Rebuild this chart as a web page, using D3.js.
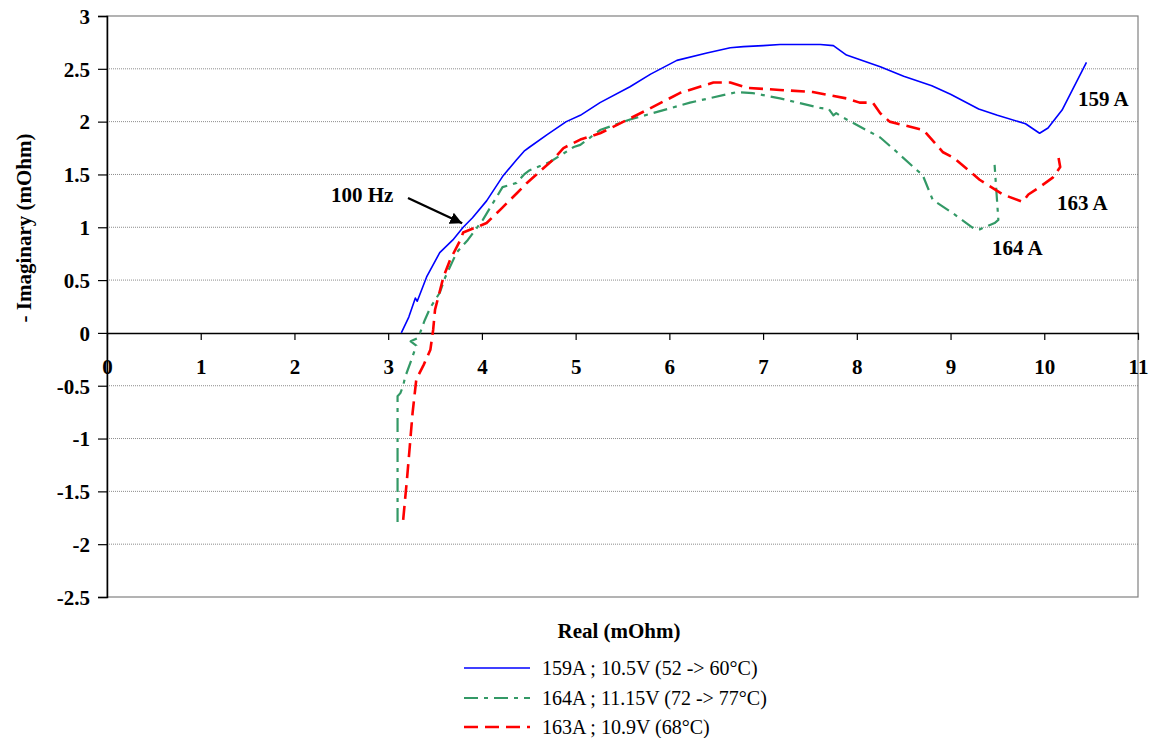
<!DOCTYPE html>
<html><head><meta charset="utf-8">
<script src="https://cdn.jsdelivr.net/npm/d3@7"></script>
<style>body{margin:0;background:#fff}svg{display:block}svg text{font-family:'Times New Roman','Liberation Serif',Tinos,'DejaVu Serif',serif !important}</style>
</head><body><svg id="c" width="1153" height="738"></svg>
<script>
const xTicks = [0,1,2,3,4,5,6,7,8,9,10,11];
const yTicks = [3,2.5,2,1.5,1,0.5,0,-0.5,-1,-1.5,-2,-2.5];
const seriesNames = ["159A ; 10.5V (52 -> 60°C)","164A ; 11.15V (72 -> 77°C)","163A ; 10.9V (68°C)"];
const seriesLabels = ["159 A","164 A","163 A"];
const blueX = [3.14,3.22,3.29,3.31,3.41,3.55,3.69,3.80,3.90,4.05,4.22,4.37,4.45,4.51,4.70,4.90,5.05,5.26,5.58,5.80,6.08,6.40,6.65,6.79,7.00,7.18,7.61,7.75,7.89,8.25,8.50,8.80,9.00,9.30,9.50,9.80,9.95,10.04,10.19,10.45];
const blueY = [0,0.15,0.33,0.30,0.53,0.76,0.88,1.0,1.09,1.25,1.48,1.64,1.72,1.76,1.88,2.0,2.06,2.18,2.33,2.45,2.58,2.65,2.70,2.71,2.72,2.73,2.73,2.72,2.63,2.52,2.43,2.34,2.26,2.12,2.06,1.98,1.89,1.94,2.11,2.56];
const greenX = [3.10,3.10,3.13,3.16,3.18,3.25,3.30,3.24,3.31,3.34,3.39,3.45,3.55,3.61,3.73,3.85,4.01,4.22,4.30,4.37,4.45,4.51,4.73,4.98,5.05,5.26,5.58,6.22,6.72,6.89,7.18,7.61,7.70,7.75,7.78,7.85,8.25,8.43,8.64,8.70,8.81,9.03,9.23,9.27,9.31,9.47,9.51,9.47];
const greenY = [-1.79,-0.6,-0.57,-0.50,-0.42,-0.25,-0.12,-0.08,-0.05,0,0.12,0.24,0.38,0.53,0.76,0.88,1.07,1.38,1.40,1.42,1.50,1.54,1.62,1.76,1.78,1.92,2.02,2.18,2.28,2.27,2.22,2.13,2.12,2.06,2.08,2.04,1.85,1.71,1.54,1.50,1.26,1.13,1.0,0.98,0.98,1.04,1.07,1.59];
const redX = [3.16,3.20,3.23,3.26,3.30,3.38,3.45,3.48,3.50,3.59,3.66,3.77,3.80,4.05,4.20,4.37,4.48,4.76,4.87,5.05,5.26,5.40,5.76,6.11,6.47,6.65,6.83,7.18,7.53,7.89,8.03,8.17,8.25,8.35,8.71,8.92,9.03,9.31,9.56,9.77,9.83,9.95,10.09,10.17,10.15];
const redY = [-1.77,-1.39,-1.08,-0.76,-0.44,-0.30,-0.16,0.03,0.22,0.53,0.69,0.88,0.95,1.04,1.17,1.32,1.42,1.64,1.75,1.83,1.89,1.95,2.11,2.27,2.37,2.37,2.32,2.30,2.28,2.22,2.18,2.18,2.08,2.0,1.92,1.71,1.66,1.45,1.31,1.24,1.31,1.38,1.47,1.57,1.67];
const annX = [3.8]; const annY = [1.0]; // 100 Hz point

const FONT = "'Times New Roman','Liberation Serif',Tinos,'DejaVu Serif',serif";
const svg = d3.select("#c");
const L=107,R=1138,T=16,B=597;
const x = d3.scaleLinear().domain([0,11]).range([L,R]);
const y = d3.scaleLinear().domain([-2.5,3]).range([B,T]);

svg.append("g").selectAll("line").data(yTicks.filter(v=>v!==3&&v!==-2.5&&v!==0)).join("line")
  .attr("x1",L).attr("x2",R).attr("y1",d=>y(d)).attr("y2",d=>y(d))
  .attr("stroke","#8c8c8c").attr("stroke-width",1).attr("stroke-dasharray","1,1");
svg.append("rect").attr("x",L).attr("y",T).attr("width",R-L).attr("height",B-T)
  .attr("fill","none").attr("stroke","#808080").attr("stroke-width",1.2);

const ya = svg.append("g").attr("transform",`translate(${L},0)`)
  .call(d3.axisLeft(y).tickValues(yTicks).tickSize(9).tickPadding(8).tickFormat(d=>d));
ya.attr("font-family",FONT);
ya.select(".domain").attr("stroke","#000").attr("stroke-width",1.5);
ya.selectAll(".tick line").attr("stroke","#000").attr("stroke-width",1.2);
ya.selectAll("text").attr("font-size",21).attr("font-weight","bold").style("font-family",FONT).attr("fill","#000").attr("dy","0.35em");

const xa = svg.append("g").attr("transform",`translate(0,${y(0)})`)
  .call(d3.axisBottom(x).tickValues(xTicks).tickSize(7).tickPadding(19).tickSizeOuter(0));
xa.attr("font-family",FONT);
xa.select(".domain").attr("stroke","#000").attr("stroke-width",1.5);
xa.selectAll(".tick line").attr("stroke","#000").attr("stroke-width",1.2);
xa.selectAll("text").attr("font-size",21).attr("font-weight","bold").style("font-family",FONT).attr("fill","#000");

const line = d3.line().x(d=>x(d[0])).y(d=>y(d[1]));
const series = [
  {xs:blueX, ys:blueY, color:"#0000ff", w:1.6, dash:null},
  {xs:greenX, ys:greenY, color:"#339966", w:2.2, dash:"14,6,4,6"},
  {xs:redX, ys:redY, color:"#ff0000", w:2.6, dash:"14,7"}
];
series.forEach(s=>{
  svg.append("path").datum(s.xs.map((v,i)=>[v,s.ys[i]])).attr("d",line)
    .attr("fill","none").attr("stroke",s.color).attr("stroke-width",s.w)
    .attr("stroke-dasharray",s.dash).attr("stroke-linejoin","round");
});

const lab = [[1078,106,seriesLabels[0]],[992,255,seriesLabels[1]],[1057,210,seriesLabels[2]]];
svg.append("g").selectAll("text").data(lab).join("text")
  .attr("x",d=>d[0]).attr("y",d=>d[1]).text(d=>d[2])
  .attr("font-size",21).attr("font-weight","bold").style("font-family",FONT);
svg.append("text").attr("x",331).attr("y",202).text("100 Hz").attr("font-size",21).attr("font-weight","bold").style("font-family",FONT);
svg.append("defs").append("marker").attr("id","ah").attr("viewBox","0 0 10 10").attr("refX",10).attr("refY",5)
  .attr("markerWidth",5).attr("markerHeight",5).attr("orient","auto").attr("markerUnits","strokeWidth")
  .append("path").attr("d","M0,0 L10,5 L0,10 z").attr("fill","#000");
svg.append("line").attr("x1",408).attr("y1",198).attr("x2",x(annX[0])-1).attr("y2",y(annY[0])-4)
  .attr("stroke","#000").attr("stroke-width",2.4).attr("marker-end","url(#ah)");

svg.append("text").attr("x",619).attr("y",638).attr("text-anchor","middle").text("Real (mOhm)")
  .attr("font-size",21).attr("font-weight","bold").style("font-family",FONT);
svg.append("text").attr("transform","translate(31,228) rotate(-90)").attr("text-anchor","middle")
  .text("- Imaginary (mOhm)").attr("font-size",21).attr("font-weight","bold").style("font-family",FONT);

const lg = svg.append("g");
const ly = [668,698,727];
series.forEach((s,i)=>{
  lg.append("line").attr("x1",464).attr("x2",530).attr("y1",ly[i]).attr("y2",ly[i])
    .attr("stroke",s.color).attr("stroke-width",s.w).attr("stroke-dasharray",s.dash);
  lg.append("text").attr("x",542).attr("y",ly[i]+7).text(seriesNames[i]).attr("font-size",20).style("font-family",FONT);
});
</script></body></html>
